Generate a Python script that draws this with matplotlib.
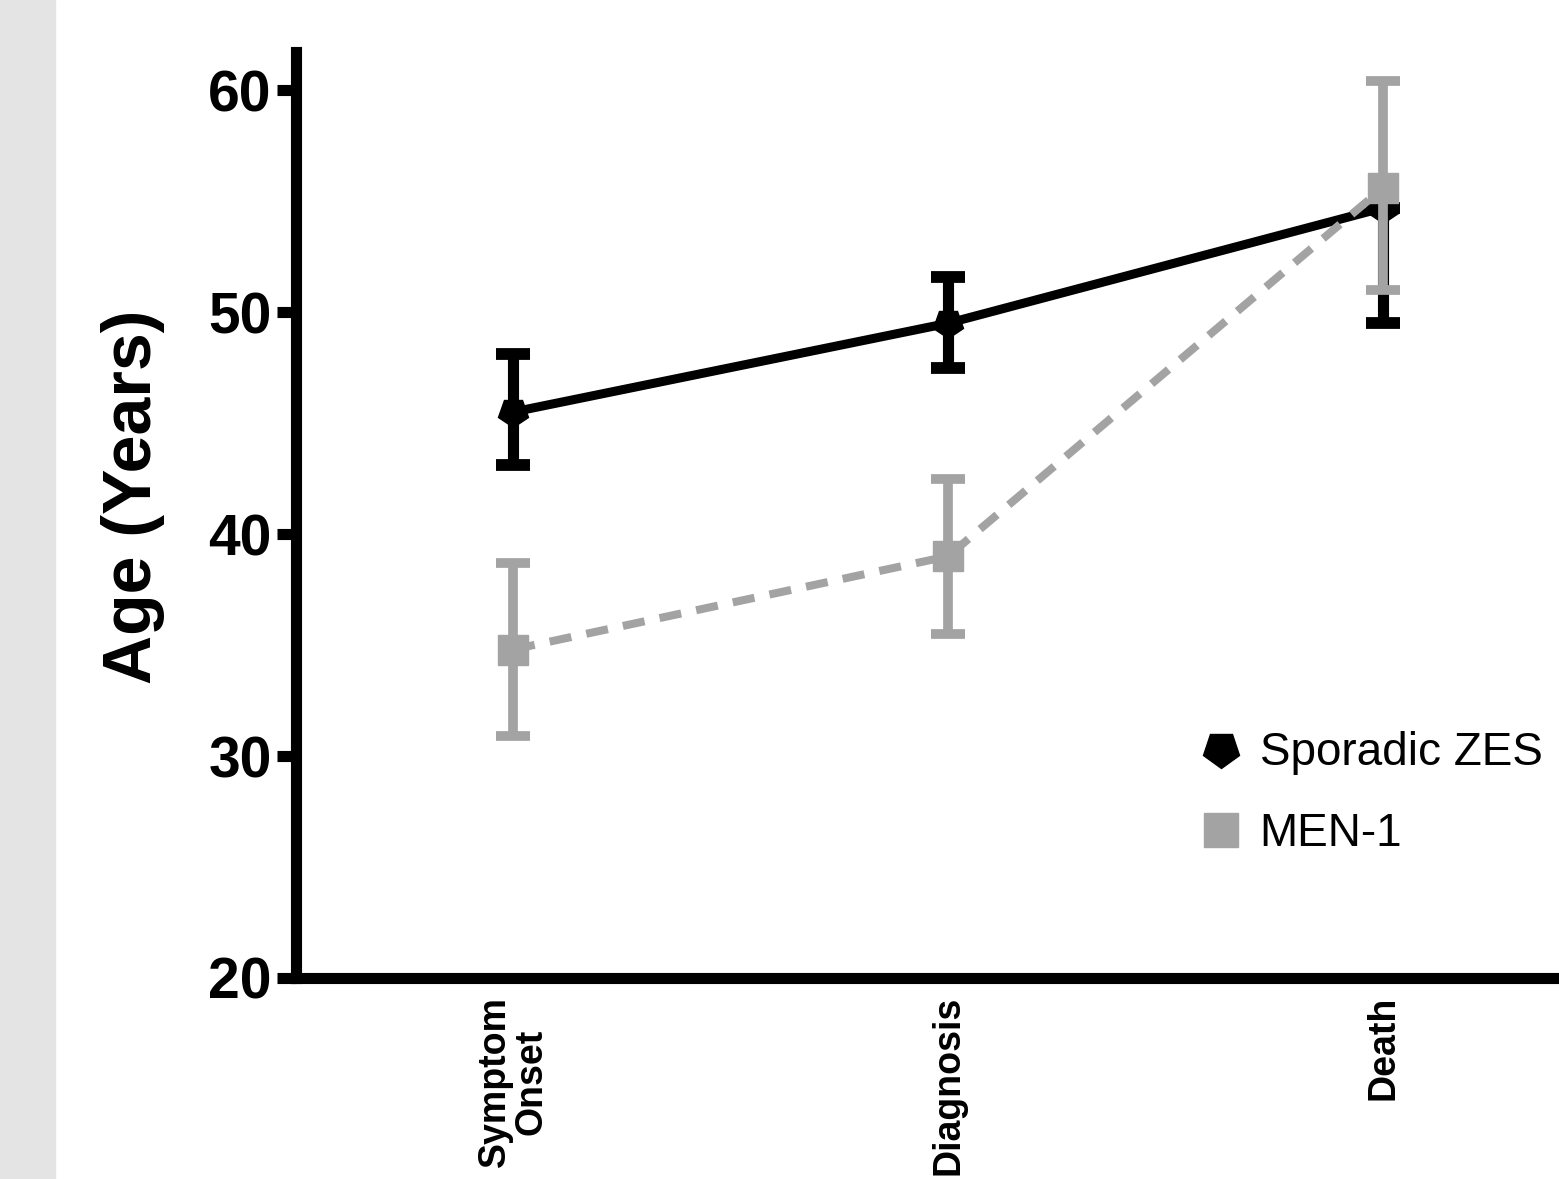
import numpy as np
import matplotlib
matplotlib.use('Agg')
import matplotlib.pyplot as plt
from matplotlib.markers import MarkerStyle
from matplotlib.transforms import Affine2D
from matplotlib.lines import Line2D
from matplotlib.patches import Rectangle

plt.rcParams['font.family'] = ['Liberation Sans', 'DejaVu Sans']

# data
stages = ['Symptom\nOnset', 'Diagnosis', 'Death']
sporadic_mean = [45.5, 49.5, 54.7]
sporadic_lo = [43.1, 47.5, 49.5]
sporadic_hi = [48.1, 51.6, 54.7]   # upper bar at death is hidden under MEN-1
men1_mean = [34.8, 39.0, 55.6]
men1_lo = [30.9, 35.5, 51.0]
men1_hi = [38.7, 42.5, 60.4]
yticks = [20, 30, 40, 50, 60]

black = '#000000'
grey = '#a3a3a3'

fig = plt.figure(figsize=(15.59, 11.79), dpi=100)
fig.patches.append(Rectangle((0, 0), 55 / 1559, 1, transform=fig.transFigure,
                             color='#e4e4e4', zorder=0))
ax = fig.add_axes([296 / 1559, 0.1705, 1 - 296 / 1559, 0.7850])

x = np.arange(len(stages))

def err(mean, lo, hi):
    mean = np.array(mean)
    return [mean - np.array(lo), np.array(hi) - mean]

# pentagon pointing down for the sporadic series
down_pent = MarkerStyle('p', transform=Affine2D().rotate_deg(180))

ax.errorbar(x, sporadic_mean, yerr=err(sporadic_mean, sporadic_lo, sporadic_hi),
            color=black, lw=6.5, marker=down_pent, ms=22, elinewidth=8,
            capsize=12, capthick=8.5, zorder=3)
eb = ax.errorbar(x, men1_mean, yerr=err(men1_mean, men1_lo, men1_hi),
                 color=grey, lw=5.8, ls=(0, (2.75, 1.9)), marker='s', ms=21,
                 elinewidth=7, capsize=12, capthick=7, zorder=4)
eb[0].set_dash_capstyle('butt')

ax.set_ylim(20, 61.7)
ax.set_xlim(-0.4989, 2.4046)
ax.set_yticks(yticks)
ax.set_yticklabels([str(v) for v in yticks], fontsize=41, fontweight='bold')
ax.set_xticks(x)
ax.set_xticklabels(stages, rotation=90, ha='center', va='top', fontsize=27,
                   fontweight='bold', multialignment='center', linespacing=1.0)
ax.tick_params(axis='y', length=14, width=8, pad=3.5, direction='out')
ax.tick_params(axis='x', length=0, pad=13)

for side in ['top', 'right']:
    ax.spines[side].set_visible(False)
ax.spines['left'].set_linewidth(8)
ax.spines['bottom'].set_linewidth(8)

ax.set_ylabel('Age (Years)', fontsize=49, fontweight='bold')
ax.yaxis.set_label_coords(-0.104, 0.52)

handles = [Line2D([], [], ls='none', marker=down_pent, ms=27, color=black),
           Line2D([], [], ls='none', marker='s', ms=25, color=grey)]
fig.legend(handles, ['Sporadic ZES', 'MEN-1'], loc='upper left',
           bbox_to_anchor=(1200 / 1559, (1179 - 731) / 1179), frameon=False,
           fontsize=33, handlelength=0.9, handletextpad=0.4, borderpad=0,
           borderaxespad=0, labelspacing=0.8)

fig.savefig('out.png', dpi=100)
